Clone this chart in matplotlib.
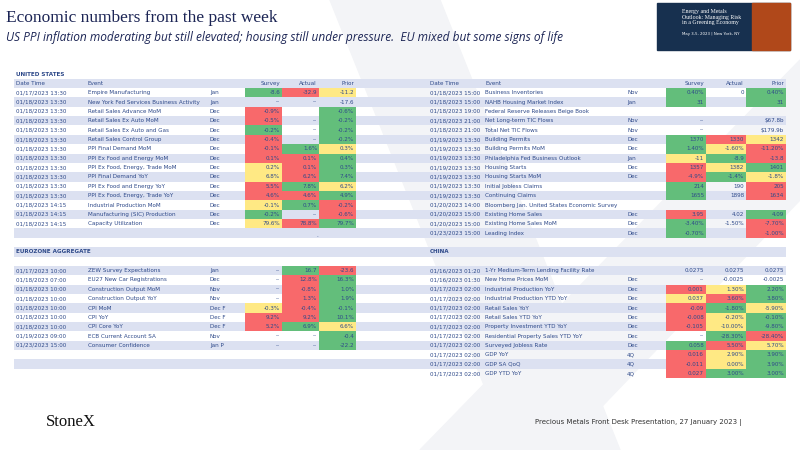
import matplotlib.pyplot as plt
from matplotlib.patches import Rectangle, Polygon

# ---- data ----
us_dates = ['01/17/2023 13:30'] + ['01/18/2023 13:30'] * 11 + ['01/18/2023 14:15'] * 3
us_events = ['Empire Manufacturing', 'New York Fed Services Business Activity', 'Retail Sales Advance MoM',
             'Retail Sales Ex Auto MoM', 'Retail Sales Ex Auto and Gas', 'Retail Sales Control Group',
             'PPI Final Demand MoM', 'PPI Ex Food and Energy MoM', 'PPI Ex Food, Energy, Trade MoM',
             'PPI Final Demand YoY', 'PPI Ex Food and Energy YoY', 'PPI Ex Food, Energy, Trade YoY',
             'Industrial Production MoM', 'Manufacturing (SIC) Production', 'Capacity Utilization']
us_periods = ['Jan', 'Jan'] + ['Dec'] * 13
us_survey = ['-8.6', '--', '-0.9%', '-0.5%', '-0.2%', '-0.4%', '-0.1%', '0.1%', '0.2%', '6.8%', '5.5%', '4.6%', '-0.1%', '-0.2%', '79.6%']
us_actual = ['-32.9', '--', '', '--', '--', '--', '1.6%', '0.1%', '0.1%', '6.2%', '7.8%', '4.6%', '0.7%', '--', '78.8%']
us_prior = ['-11.2', '-17.6', '-0.6%', '-0.2%', '-0.2%', '-0.2%', '0.3%', '0.4%', '0.3%', '7.4%', '6.2%', '4.9%', '-0.2%', '-0.6%', '79.7%']
us_colors = ['gry', '', 'r g', 'r g', 'g g', 'r g', 'rgy', 'rrg', 'yrg', 'yrg', 'rgy', 'rrg', 'ygr', 'g r', 'yrg']

us2_dates = ['01/18/2023 15:00', '01/18/2023 15:00', '01/18/2023 19:00', '01/18/2023 21:00', '01/18/2023 21:00',
             '01/19/2023 13:30', '01/19/2023 13:30', '01/19/2023 13:30', '01/19/2023 13:30', '01/19/2023 13:30',
             '01/19/2023 13:30', '01/19/2023 13:30', '01/20/2023 14:00', '01/20/2023 15:00', '01/20/2023 15:00',
             '01/23/2023 15:00']
us2_events = ['Business Inventories', 'NAHB Housing Market Index', 'Federal Reserve Releases Beige Book',
              'Net Long-term TIC Flows', 'Total Net TIC Flows', 'Building Permits', 'Building Permits MoM',
              'Philadelphia Fed Business Outlook', 'Housing Starts', 'Housing Starts MoM', 'Initial Jobless Claims',
              'Continuing Claims', 'Bloomberg Jan. United States Economic Survey', 'Existing Home Sales',
              'Existing Home Sales MoM', 'Leading Index']
us2_periods = ['Nov', 'Jan', '', 'Nov', 'Nov', 'Dec', 'Dec', 'Jan', 'Dec', 'Dec', '', '', '', 'Dec', 'Dec', 'Dec']
us2_survey = ['0.40%', '31', '', '--', '--', '1370', '1.40%', '-11', '1357', '-4.9%', '214', '1655', '', '3.95', '-3.40%', '-0.70%']
us2_actual = ['0', '', '', '', '', '1330', '-1.60%', '-8.9', '1382', '-1.4%', '190', '1898', '', '4.02', '-1.50%', '']
us2_prior = ['0.40%', '31', '', '$67.8b', '$179.9b', '1342', '-11.20%', '-13.8', '1401', '-1.8%', '205', '1634', '', '4.09', '-7.70%', '-1.00%']
us2_colors = ['g g', 'g g', '', '', '', 'gry', 'gyr', 'ygr', 'ryg', 'rgy', 'g r', 'g r', '', 'r g', 'g r', 'g r']

eu_dates = ['01/17/2023 10:00', '01/18/2023 07:00', '01/18/2023 10:00', '01/18/2023 10:00', '01/18/2023 10:00',
            '01/18/2023 10:00', '01/18/2023 10:00', '01/19/2023 09:00', '01/23/2023 15:00']
eu_events = ['ZEW Survey Expectations', 'EU27 New Car Registrations', 'Construction Output MoM',
             'Construction Output YoY', 'CPI MoM', 'CPI YoY', 'CPI Core YoY', 'ECB Current Account SA',
             'Consumer Confidence']
eu_periods = ['Jan', 'Dec', 'Nov', 'Nov', 'Dec F', 'Dec F', 'Dec F', 'Nov', 'Jan P']
eu_survey = ['--', '--', '--', '--', '-0.3%', '9.2%', '5.2%', '--', '--']
eu_actual = ['16.7', '12.8%', '-0.8%', '1.3%', '-0.4%', '9.2%', '6.9%', '--', '--']
eu_prior = ['-23.6', '16.3%', '1.0%', '1.9%', '-0.1%', '10.1%', '6.6%', '-0.4', '-22.2']
eu_colors = [' gr', ' rg', ' rg', ' rg', 'yrg', 'rrg', 'rgy', '  g', '  g']

cn_dates = ['01/16/2023 01:20', '01/16/2023 01:30'] + ['01/17/2023 02:00'] * 10
cn_events = ['1-Yr Medium-Term Lending Facility Rate', 'New Home Prices MoM', 'Industrial Production YoY',
             'Industrial Production YTD YoY', 'Retail Sales YoY', 'Retail Sales YTD YoY',
             'Property Investment YTD YoY', 'Residential Property Sales YTD YoY', 'Surveyed Jobless Rate',
             'GDP YoY', 'GDP SA QoQ', 'GDP YTD YoY']
cn_periods = ['', 'Dec', 'Dec', 'Dec', 'Dec', 'Dec', 'Dec', 'Dec', 'Dec', '4Q', '4Q', '4Q']
cn_survey = ['0.0275', '--', '0.001', '0.037', '-0.09', '-0.008', '-0.105', '--', '0.058', '0.016', '-0.011', '0.027']
cn_actual = ['0.0275', '-0.0025', '1.30%', '3.60%', '-1.80%', '-0.20%', '-10.00%', '-28.30%', '5.50%', '2.90%', '0.00%', '3.00%']
cn_prior = ['0.0275', '-0.0025', '2.20%', '3.80%', '-5.90%', '-0.10%', '-9.80%', '-28.40%', '5.70%', '3.90%', '3.90%', '3.00%']
cn_colors = ['', '', 'ryg', 'yrg', 'rgy', 'ryg', 'ryg', ' gr', 'gry', 'ryg', 'ryg', 'rgg']

# ---- style ----
CMAP = {'g': '#63be7b', 'r': '#f8696b', 'y': '#ffe984'}
STRIPE = '#dce1f1'
TXT = '#2f4a8a'
FS = 4.1
ROW0, DY = 74, 9.36

fig = plt.figure(figsize=(8, 4.5), dpi=100)
ax = fig.add_axes([0, 0, 1, 1])
ax.set_xlim(0, 800)
ax.set_ylim(450, 0)
ax.axis('off')

# faint watermark X
ax.add_patch(Polygon([[330, 0], [440, 0], [620, 450], [510, 450]], color='#f3f4f7', zorder=0))
ax.add_patch(Polygon([[800, 60], [800, 200], [560, 450], [420, 450]], color='#f3f4f7', zorder=0))


def ry(r):
    return ROW0 + r * DY


def stripes(x0, x1, rows):
    for r in rows:
        if r % 2 == 1:
            ax.add_patch(Rectangle((x0, ry(r) - DY / 2), x1 - x0, DY, color=STRIPE, lw=0, zorder=1))


def table(xs, start, dates, events, periods, survey, actual, prior, colors, header=True):
    xd, xe, xp, cells = xs
    if header:
        ax.text(xd, ry(start - 1), 'Date Time', fontsize=FS, color=TXT, va='center')
        ax.text(xe, ry(start - 1), 'Event', fontsize=FS, color=TXT, va='center')
        for name, (c0, c1) in zip(['Survey', 'Actual', 'Prior'], cells):
            ax.text(c1 - 2, ry(start - 1), name, fontsize=FS, color=TXT, va='center', ha='right')
    for i in range(len(dates)):
        y = ry(start + i)
        ax.text(xd, y, dates[i], fontsize=FS, color=TXT, va='center', zorder=3)
        ax.text(xe, y, events[i], fontsize=FS, color=TXT, va='center', zorder=3)
        ax.text(xp, y, periods[i], fontsize=FS, color=TXT, va='center', zorder=3)
        for j, val in enumerate([survey[i], actual[i], prior[i]]):
            c0, c1 = cells[j]
            col = colors[i][j] if j < len(colors[i]) else ' '
            if col in CMAP:
                ax.add_patch(Rectangle((c0, y - DY / 2), c1 - c0, DY, color=CMAP[col], lw=0, zorder=2))
            ax.text(c1 - 2, y, val, fontsize=FS, color=TXT, va='center', ha='right', zorder=3)


LX = (16, 88, 210, [(245, 282), (282, 319), (319, 356)])
RX = (430, 485, 627, [(666, 706), (706, 746), (746, 786)])

stripes(14, 400, range(1, 32))
stripes(400, 786, range(1, 32))

ax.text(16, ry(0), 'UNITED STATES', fontsize=FS, color=TXT, va='center', fontweight='bold', zorder=3)
table(LX, 2, us_dates, us_events, us_periods, us_survey, us_actual, us_prior, us_colors)
table(RX, 2, us2_dates, us2_events, us2_periods, us2_survey, us2_actual, us2_prior, us2_colors)
ax.text(316, ry(17) + 2, '.', fontsize=FS, color=TXT, va='center', zorder=3)
ax.text(16, ry(19), 'EUROZONE AGGREGATE', fontsize=FS, color=TXT, va='center', fontweight='bold', zorder=3)
ax.text(430, ry(19), 'CHINA', fontsize=FS, color=TXT, va='center', fontweight='bold', zorder=3)
table(LX, 21, eu_dates, eu_events, eu_periods, eu_survey, eu_actual, eu_prior, eu_colors, header=False)
table(RX, 21, cn_dates, cn_events, cn_periods, cn_survey, cn_actual, cn_prior, cn_colors, header=False)

# titles
ax.text(6, 18, 'Economic numbers from the past week', fontsize=12.5, family='Liberation Serif',
        color='#1c2555', va='center')
ax.text(6, 37, 'US PPI inflation moderating but still elevated; housing still under pressure.  EU mixed but some signs of life',
        fontsize=8.6, style='italic', family='Open Sans', color='#1c2555', va='center')

# event banner
ax.add_patch(Rectangle((657, 3), 133, 47, color='#17304f', zorder=2))
ax.add_patch(Rectangle((752, 3), 38, 47, color='#b0481a', zorder=2))
ax.text(682, 17, 'Energy and Metals\nOutlook: Managing Risk\nin a Greening Economy', fontsize=4.2,
        family='Liberation Serif', color='white', va='center', linespacing=1.1, zorder=3)
ax.text(682, 34, 'May 3-5, 2023 | New York, NY', fontsize=2.8, color='white', va='center', zorder=3)

# footer
ax.text(46, 422, 'StoneX', fontsize=12, family='Liberation Serif', color='#111111', va='center')
ax.text(535, 422, 'Precious Metals Front Desk Presentation, 27 January 2023 |', fontsize=5,
        color='#333333', va='center')

fig.savefig('out.png', dpi=100)
